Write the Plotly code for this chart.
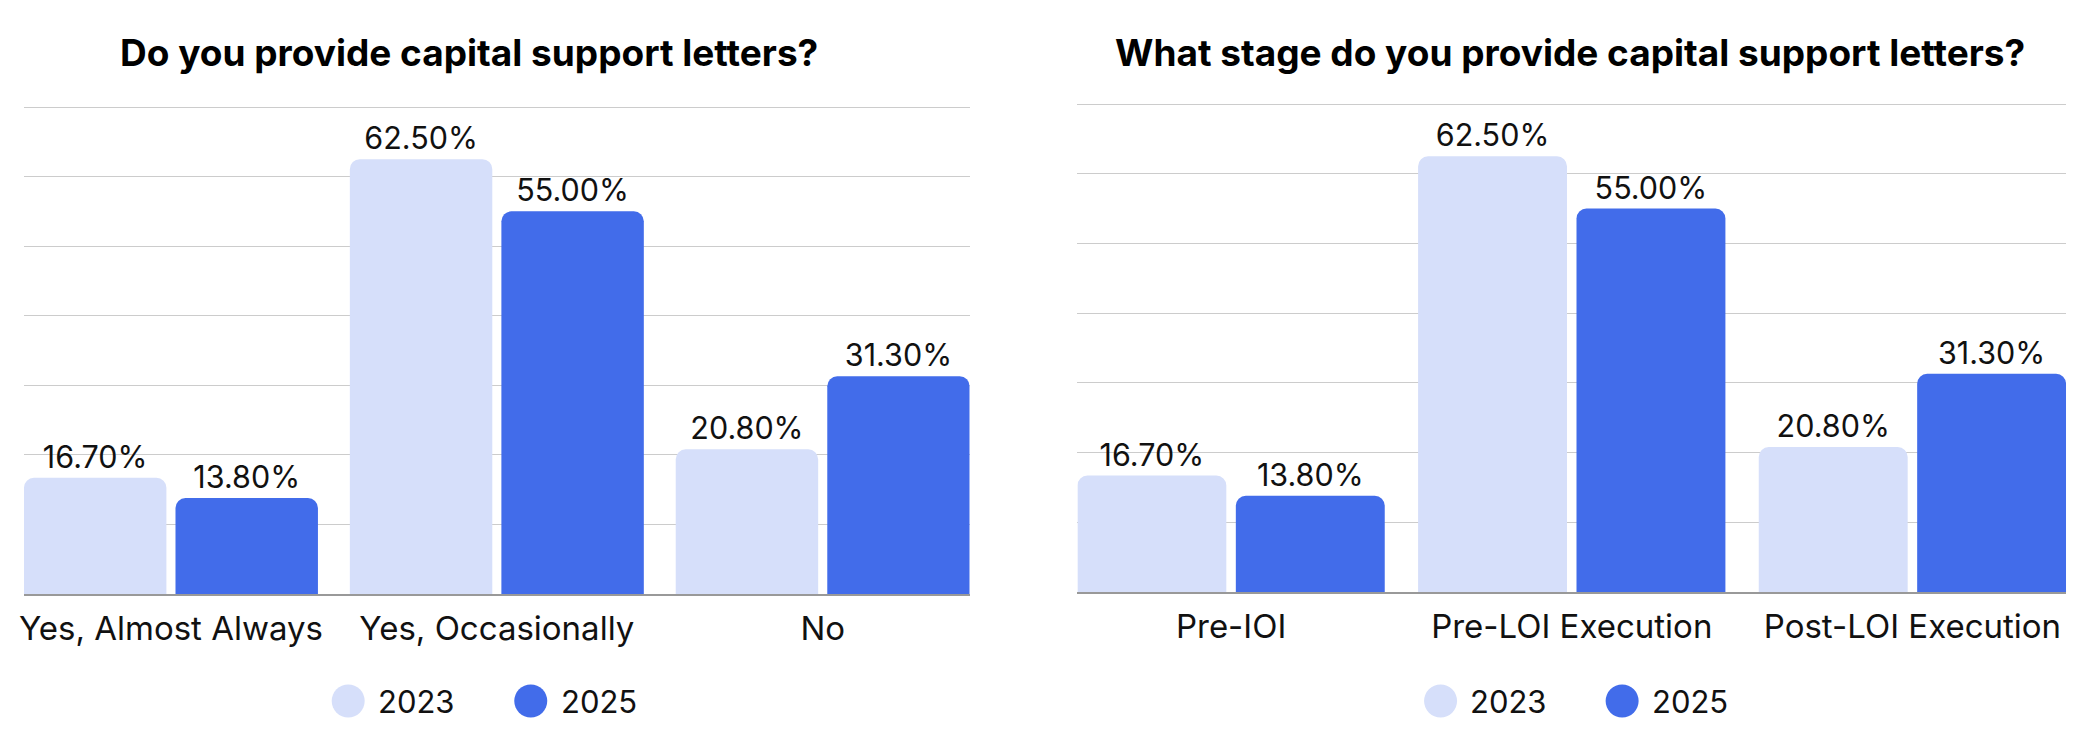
import plotly.graph_objects as go

# ---- data ----
left_title = "Do you provide capital support letters?"
right_title = "What stage do you provide capital support letters?"
left_categories = ["Yes, Almost Always", "Yes, Occasionally", "No"]
right_categories = ["Pre-IOI", "Pre-LOI Execution", "Post-LOI Execution"]
series_names = ["2023", "2025"]
left_2023 = [16.7, 62.5, 20.8]
left_2025 = [13.8, 55.0, 31.3]
right_2023 = [16.7, 62.5, 20.8]
right_2025 = [13.8, 55.0, 31.3]

OFF = 8  # default page body margin
W, H = 2092 - OFF, 744 - OFF
C_LIGHT = "#D6DFFA"
C_DARK = "#426CEA"
FONT = "Inter"

fig = go.Figure()

def add_pair(cats, v23, v25, xa, ya):
    for name, vals, col in [(series_names[0], v23, C_LIGHT), (series_names[1], v25, C_DARK)]:
        fig.add_trace(go.Bar(
            x=cats, y=vals, name=name, xaxis=xa, yaxis=ya,
            marker=dict(color=col, cornerradius=10, line=dict(width=0)),
            text=[f"{v:.2f}%" for v in vals], textposition="outside",
            textfont=dict(family=FONT, size=30.5, color="#111111"),
            cliponaxis=False, showlegend=False, hoverinfo="skip"))

add_pair(left_categories, left_2023, left_2025, "x", "y")
add_pair(right_categories, right_2023, right_2025, "x2", "y2")

def px_x(p):
    return (p - OFF) / W

def px_y(p):
    return 1 - (p - OFF) / H

YMAX = 70.5
yax = dict(range=[0, YMAX], tickvals=[10, 20, 30, 40, 50, 60, 70], showticklabels=False, showgrid=True,
           gridcolor="#CCCCCC", gridwidth=1, zeroline=False, showline=False, fixedrange=True)
xax = dict(type="category", range=[-0.451, 2.451], showgrid=False, showline=True,
           linecolor="#999999", linewidth=2, ticks="", ticklabelstandoff=4,
           tickfont=dict(family=FONT, size=33, color="#111111"))

def ydom(bottom, top70):
    per = (bottom - top70) / 70.0
    return [px_y(bottom), px_y(bottom - per * YMAX)]

fig.update_layout(
    width=W, height=H, margin=dict(l=0, r=0, t=0, b=0),
    paper_bgcolor="white", plot_bgcolor="white",
    barmode="group", bargap=0.07, bargroupgap=0.06,
    xaxis=dict(xax, domain=[px_x(19), px_x(967)], anchor="y"),
    yaxis=dict(yax, domain=ydom(594, 107), anchor="x"),
    xaxis2=dict(xax, domain=[px_x(1075), px_x(2066)], anchor="y2"),
    yaxis2=dict(yax, domain=ydom(592, 104), anchor="x2"),
    font=dict(family=FONT, color="#111111"),
)

# titles
fig.add_annotation(text=f"<b>{left_title}</b>", x=px_x(465), y=px_y(52), xref="paper", yref="paper",
                   showarrow=False, xanchor="center", yanchor="middle",
                   font=dict(family=FONT, size=37, color="#000000"))
fig.add_annotation(text=f"<b>{right_title}</b>", x=px_x(1569), y=px_y(52), xref="paper", yref="paper",
                   showarrow=False, xanchor="center", yanchor="middle",
                   font=dict(family=FONT, size=37, color="#000000"))

# manual legends
def legend_at(cx_list):
    for (mx, tx), name, col in zip(cx_list, series_names, [C_LIGHT, C_DARK]):
        fig.add_shape(type="circle", xref="paper", yref="paper",
                      xsizemode="pixel", ysizemode="pixel",
                      xanchor=px_x(mx), yanchor=px_y(701),
                      x0=-16.5, x1=16.5, y0=-16.5, y1=16.5,
                      fillcolor=col, line=dict(width=0))
        fig.add_annotation(text=name, x=px_x(tx), y=px_y(701), xref="paper", yref="paper",
                           showarrow=False, xanchor="left", yanchor="middle",
                           font=dict(family=FONT, size=31, color="#111111"))

legend_at([(344, 372), (527, 555)])
legend_at([(1439, 1466), (1621, 1649)])

fig.write_html("out.html")
